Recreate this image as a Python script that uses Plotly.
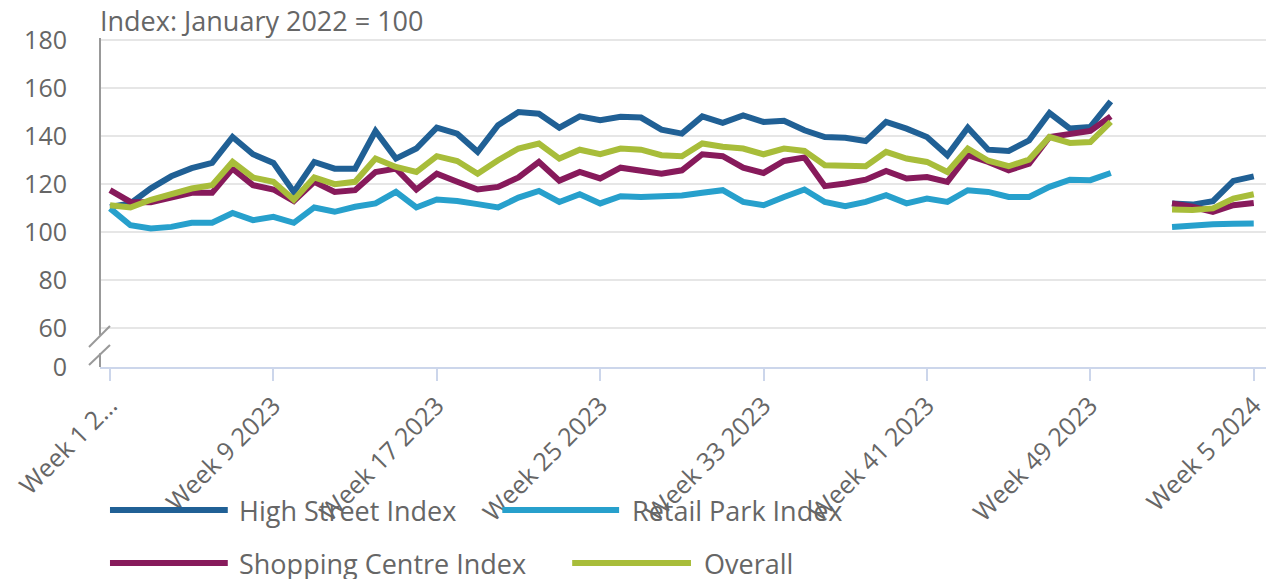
import plotly.graph_objects as go

weeks = [f"Week {i} 2023" for i in range(1, 53)] + [f"Week {i} 2024" for i in range(1, 6)]

high_street = [110.5, 112, 118.3, 123.3, 126.7, 128.9, 139.7, 132.5, 128.9, 116.8,
               129.3, 126.5, 126.5, 142.2, 130.7, 134.9, 143.6, 141.1, 133.5, 144.6,
               150.1, 149.4, 143.6, 148.3, 146.7, 148.1, 147.8, 142.8, 141.1, 148.3,
               145.6, 148.7, 146, 146.5, 142.5, 139.7, 139.4, 138, 146, 143.2,
               139.7, 132.1, 143.6, 134.4, 133.9, 138.3, 149.7, 143.2, 143.9, 154.6,
               None, None, 112, 111.5, 112.9, 121.4, 123.3]
retail_park = [109.9, 102.9, 101.5, 102.2, 103.9, 103.9, 108, 105, 106.4, 103.9,
               110.3, 108.5, 110.6, 112, 116.8, 110.3, 113.6, 113, 111.7, 110.3,
               114.4, 117.2, 112.6, 115.8, 112, 115, 114.7, 115, 115.3, 116.4,
               117.5, 112.6, 111.25, 114.7, 117.8, 112.6, 110.8, 112.6, 115.4, 112,
               114, 112.6, 117.5, 116.8, 114.7, 114.7, 118.9, 121.9, 121.7, 124.7,
               None, None, 102.2, 102.9, 103.3, 103.5, 103.6]
shopping_centre = [117.5, 112.6, 112.5, 114.4, 116.4, 116.4, 126.5, 119.6, 117.8, 113,
                   121, 116.8, 117.5, 125.1, 126.5, 117.8, 124.4, 121, 117.8, 118.9,
                   122.8, 129.3, 121.5, 125.1, 122.4, 126.9, 125.8, 124.4, 125.8, 132.5,
                   131.7, 126.9, 124.7, 129.7, 131.1, 119.2, 120.3, 121.9, 125.5, 122.4,
                   123, 121, 132.1, 129.3, 125.8, 128.6, 139.7, 141.1, 142.2, 148.3,
                   None, None, 112, 110.6, 108.5, 111.25, 112.2]
overall = [111.25, 110.3, 113.5, 115.8, 118.2, 119.6, 129.3, 122.8, 121, 113.5,
           122.8, 120, 121, 130.7, 127.2, 125.1, 131.7, 129.7, 124.4, 130,
           134.9, 137, 130.7, 134.4, 132.5, 134.9, 134.4, 132.1, 131.7, 137,
           135.6, 134.9, 132.5, 134.9, 133.9, 127.9, 127.5, 127.5, 133.5, 130.7,
           129.3, 125.1, 134.9, 129.8, 127.5, 130.3, 139.7, 137.2, 137.6, 146,
           None, None, 109.5, 109.2, 109.9, 114, 115.8]

series_names = ["High Street Index", "Retail Park Index", "Shopping Centre Index", "Overall"]
series_values = [high_street, retail_park, shopping_centre, overall]
colors = ["#206095", "#27a0cc", "#871a5b", "#a8bd3a"]

tick_weeks = ["Week 1 2023", "Week 9 2023", "Week 17 2023", "Week 25 2023",
              "Week 33 2023", "Week 41 2023", "Week 49 2023", "Week 5 2024"]
tick_text = ["Week 1 2…", "Week 9 2023", "Week 17 2023", "Week 25 2023",
             "Week 33 2023", "Week 41 2023", "Week 49 2023", "Week 5 2024"]

y_tick_vals = [43.75, 60, 80, 100, 120, 140, 160, 180]
y_tick_text = ["0", "60", "80", "100", "120", "140", "160", "180"]

FONT = "Open Sans"
TXT = "#666666"

fig = go.Figure()
for name, vals, col in zip(series_names, series_values, colors):
    fig.add_trace(go.Scatter(x=weeks, y=vals, name=name, mode="lines",
                             line=dict(color=col, width=6, shape="linear"),
                             connectgaps=False, showlegend=False))

W, H = 1270, 579
ml, mr, mt, mb = 100, 2, 38, 212
ph = H - mt - mb
pw = W - ml - mr

def py(p):
    return (H - mb - p) / ph

def px(p):
    return (p - ml) / pw

shapes = []
annotations = []
# y axis line with break
shapes.append(dict(type="line", xref="paper", yref="y", x0=0, x1=0, y0=57, y1=181,
                   line=dict(color="#999999", width=2)))
shapes.append(dict(type="line", xref="paper", yref="y", x0=0, x1=0, y0=43.75, y1=49.5,
                   line=dict(color="#999999", width=2)))
shapes.append(dict(type="line", xref="paper", yref="paper", x0=px(89), x1=px(110),
                   y0=py(347), y1=py(326), line=dict(color="#999999", width=2)))
shapes.append(dict(type="line", xref="paper", yref="paper", x0=px(89), x1=px(110),
                   y0=py(365), y1=py(345), line=dict(color="#999999", width=2)))

# legend (manual, two rows)
legend_pos = [(110, 228, 240, 510), (503, 620, 633, 510), (110, 228, 240, 563), (573, 692, 705, 563)]
for (x0, x1, xt, yy), name, col in zip(legend_pos, series_names, colors):
    shapes.append(dict(type="line", xref="paper", yref="paper", x0=px(x0), x1=px(x1),
                       y0=py(yy), y1=py(yy), line=dict(color=col, width=6)))
    annotations.append(dict(xref="paper", yref="paper", x=px(xt) - 0.002, y=py(yy), text=name,
                            showarrow=False, xanchor="left", yanchor="middle",
                            font=dict(family=FONT, size=27, color=TXT)))

annotations.append(dict(xref="paper", yref="paper", x=-0.002, y=py(20), text="Index: January 2022 = 100",
                        showarrow=False, xanchor="left", yanchor="middle",
                        font=dict(family=FONT, size=27, color=TXT)))

fig.update_layout(
    width=W, height=H,
    margin=dict(l=ml, r=mr, t=mt, b=mb),
    plot_bgcolor="white", paper_bgcolor="white",
    font=dict(family=FONT, size=25, color=TXT),
    shapes=shapes, annotations=annotations,
    xaxis=dict(type="category", categoryorder="array", categoryarray=weeks,
               range=[-0.49, 56.6], tickmode="array", tickvals=tick_weeks, ticktext=tick_text,
               tickangle=-45, ticks="outside", ticklen=12, tickwidth=2, tickcolor="#ccd6eb",
               showline=True, linecolor="#ccd6eb", linewidth=2, showgrid=False,
               tickfont=dict(family=FONT, size=25, color=TXT)),
    yaxis=dict(range=[43.75, 181], tickmode="array", tickvals=y_tick_vals, ticktext=y_tick_text,
               showgrid=True, gridcolor="#e6e6e6", gridwidth=2, zeroline=False, showline=False,
               ticklabelstandoff=32, tickfont=dict(family=FONT, size=25, color=TXT)),
)

fig.write_html("out.html", config={"displayModeBar": False},
               post_script="document.body.style.margin='0';document.body.style.overflow='hidden';")
